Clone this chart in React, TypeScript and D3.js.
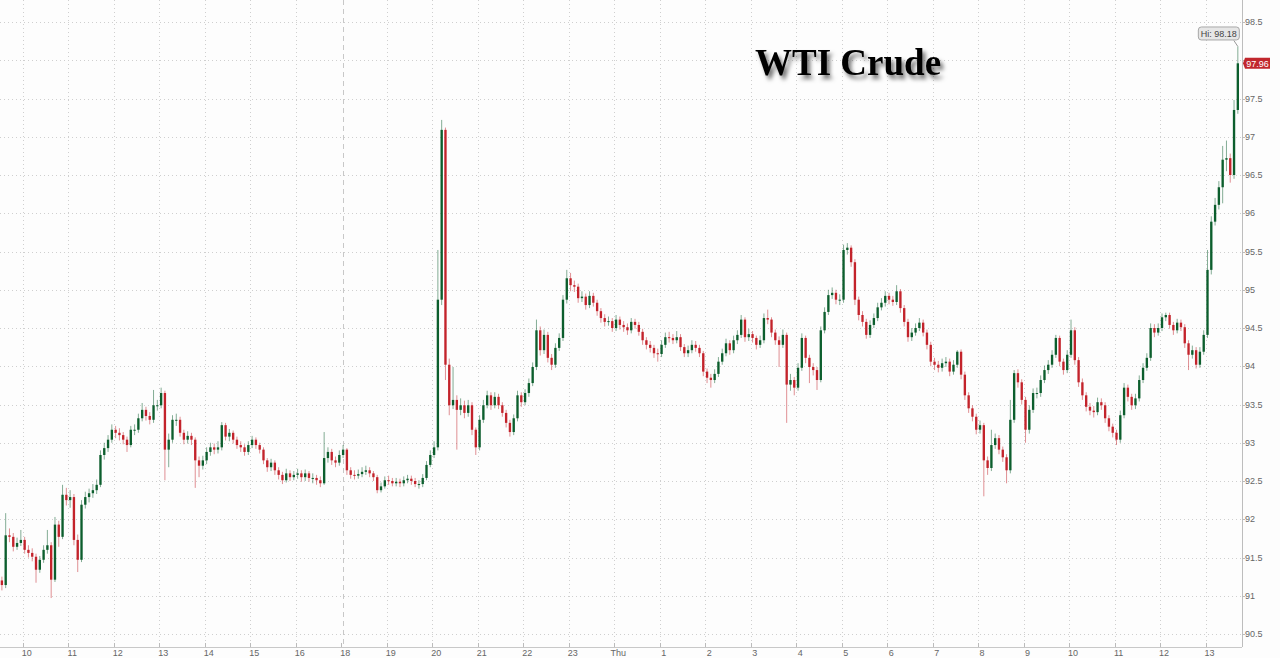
import React from 'react';
import * as d3 from 'd3';

// ---- data ----
const hourLabels = ['10', '11', '12', '13', '14', '15', '16', '18', '19', '20', '21', '22', '23', 'Thu',
  '1', '2', '3', '4', '5', '6', '7', '8', '9', '10', '11', '12', '13'];
const sessionBreakIndex = 7; // the "18" label: session restart (dashed line)
const priceTicks = [90.5, 91, 91.5, 92, 92.5, 93, 93.5, 94, 94.5, 95, 95.5, 96, 96.5, 97, 97.5, 98, 98.5];
const titleText = 'WTI Crude';
const hiValue = 98.18;
const lastValue = 97.96;
const firstOpen = 91.2;
const barsPerHour = 12; // 5-minute candles

const closes = [
  91.14, 91.79, 91.77, 91.64, 91.69, 91.73, 91.60, 91.56, 91.51, 91.34, 91.47, 91.60,
  91.66, 91.21, 91.93, 91.77, 92.32, 92.25, 92.29, 91.73, 91.47, 92.19, 92.29, 92.34,
  92.38, 92.45, 92.84, 92.93, 93.04, 93.17, 93.13, 93.10, 93.04, 92.97, 93.17, 93.17,
  93.32, 93.43, 93.35, 93.30, 93.49, 93.49, 93.65, 92.91, 93.04, 93.30, 93.30, 93.13,
  93.04, 93.09, 93.04, 92.77, 92.70, 92.77, 92.88, 92.94, 92.91, 92.94, 93.23, 93.08,
  93.13, 93.04, 92.97, 92.94, 92.88, 92.97, 93.04, 92.97, 92.91, 92.77, 92.68, 92.74,
  92.64, 92.58, 92.51, 92.60, 92.55, 92.58, 92.60, 92.55, 92.60, 92.54, 92.54, 92.51,
  92.47, 92.80, 92.88, 92.77, 92.74, 92.84, 92.91, 92.64, 92.58, 92.57, 92.59, 92.62,
  92.64, 92.60, 92.55, 92.38, 92.43, 92.51, 92.50, 92.47, 92.49, 92.47, 92.51, 92.53,
  92.50, 92.46, 92.46, 92.54, 92.71, 92.84, 92.94, 94.87, 97.09, 94.02, 93.49, 93.56,
  93.43, 93.49, 93.39, 93.49, 93.17, 92.94, 93.30, 93.49, 93.62, 93.49, 93.60, 93.49,
  93.39, 93.26, 93.14, 93.32, 93.62, 93.53, 93.65, 93.78, 93.99, 94.47, 94.21, 94.41,
  94.11, 94.02, 94.24, 94.37, 94.87, 95.15, 95.06, 95.04, 94.89, 94.91, 94.80, 94.92,
  94.83, 94.72, 94.63, 94.58, 94.59, 94.50, 94.61, 94.54, 94.51, 94.47, 94.58, 94.54,
  94.45, 94.34, 94.28, 94.24, 94.17, 94.16, 94.28, 94.38, 94.37, 94.34, 94.38, 94.25,
  94.17, 94.21, 94.28, 94.24, 94.17, 93.93, 93.85, 93.82, 93.90, 94.06, 94.17, 94.30,
  94.21, 94.34, 94.41, 94.61, 94.38, 94.42, 94.37, 94.28, 94.34, 94.63, 94.61, 94.44,
  94.34, 94.28, 94.41, 93.76, 93.82, 93.72, 93.98, 94.37, 94.11, 93.99, 93.95, 93.82,
  94.47, 94.71, 94.93, 94.96, 94.87, 94.87, 95.52, 95.55, 95.36, 94.87, 94.67, 94.58,
  94.41, 94.54, 94.63, 94.77, 94.83, 94.92, 94.87, 94.84, 94.98, 94.76, 94.58, 94.38,
  94.44, 94.50, 94.57, 94.44, 94.28, 94.06, 94.02, 93.98, 94.04, 94.06, 93.93, 94.02,
  94.19, 93.89, 93.62, 93.45, 93.34, 93.17, 93.23, 92.77, 92.67, 92.97, 93.06, 92.91,
  92.81, 92.64, 93.30, 93.91, 93.79, 93.56, 93.17, 93.43, 93.65, 93.65, 93.82, 93.95,
  94.02, 94.15, 94.37, 94.06, 93.95, 94.15, 94.47, 94.08, 93.79, 93.62, 93.47, 93.42,
  93.40, 93.53, 93.49, 93.32, 93.21, 93.13, 93.04, 93.36, 93.72, 93.60, 93.49, 93.58,
  93.82, 93.98, 94.11, 94.50, 94.44, 94.50, 94.64, 94.67, 94.54, 94.47, 94.57, 94.51,
  94.30, 94.15, 94.21, 94.02, 94.19, 94.41, 95.26, 95.89, 96.11, 96.34, 96.70, 96.72,
  96.50, 97.35, 97.96,
];

const highs = [
  91.25, 92.08, 91.88, 91.82, 91.76, 91.86, 91.77, 91.66, 91.62, 91.55, 91.52, 91.66,
  91.86, 91.70, 92.03, 91.98, 92.45, 92.41, 92.38, 92.33, 91.80, 92.25, 92.36, 92.40,
  92.46, 92.52, 92.90, 93.00, 93.10, 93.24, 93.22, 93.19, 93.14, 93.08, 93.22, 93.24,
  93.38, 93.52, 93.47, 93.40, 93.69, 93.56, 93.72, 93.68, 93.12, 93.36, 93.38, 93.34,
  93.17, 93.15, 93.13, 93.07, 92.82, 92.83, 92.94, 93.00, 92.99, 93.02, 93.27, 93.26,
  93.18, 93.16, 93.08, 93.02, 92.98, 93.02, 93.09, 93.07, 93.00, 92.94, 92.80, 92.79,
  92.77, 92.68, 92.62, 92.66, 92.64, 92.63, 92.66, 92.64, 92.65, 92.63, 92.60, 92.58,
  92.56, 93.14, 92.94, 92.92, 92.82, 92.90, 92.97, 92.93, 92.68, 92.64, 92.65, 92.68,
  92.70, 92.68, 92.63, 92.58, 92.48, 92.56, 92.57, 92.54, 92.54, 92.53, 92.56, 92.58,
  92.57, 92.54, 92.51, 92.59, 92.76, 92.90, 93.02, 95.52, 97.22, 97.12, 94.10, 93.99,
  93.62, 93.58, 93.55, 93.56, 93.53, 93.20, 93.36, 93.56, 93.68, 93.66, 93.66, 93.64,
  93.53, 93.43, 93.30, 93.37, 93.68, 93.66, 93.70, 93.84, 94.05, 94.61, 94.52, 94.48,
  94.45, 94.16, 94.30, 94.43, 94.93, 95.26, 95.22, 95.12, 95.08, 94.98, 94.95, 94.98,
  94.96, 94.87, 94.76, 94.68, 94.65, 94.63, 94.67, 94.65, 94.59, 94.56, 94.63, 94.62,
  94.58, 94.49, 94.38, 94.33, 94.28, 94.23, 94.34, 94.44, 94.45, 94.42, 94.46, 94.42,
  94.29, 94.27, 94.34, 94.33, 94.28, 94.20, 93.97, 93.90, 93.96, 94.12, 94.23, 94.36,
  94.34, 94.40, 94.47, 94.67, 94.64, 94.49, 94.46, 94.40, 94.40, 94.69, 94.74, 94.64,
  94.48, 94.39, 94.48, 94.44, 93.90, 93.86, 94.04, 94.43, 94.40, 94.15, 94.04, 93.99,
  94.52, 94.77, 95.00, 95.03, 95.00, 94.94, 95.59, 95.61, 95.58, 95.40, 94.91, 94.72,
  94.62, 94.60, 94.69, 94.83, 94.89, 94.98, 94.96, 94.92, 95.06, 95.01, 94.80, 94.62,
  94.50, 94.56, 94.63, 94.61, 94.48, 94.32, 94.11, 94.07, 94.10, 94.12, 94.10, 94.08,
  94.21, 94.22, 93.93, 93.66, 93.49, 93.38, 93.29, 93.26, 92.82, 93.17, 93.12, 93.10,
  92.95, 92.85, 93.56, 93.95, 93.96, 93.83, 93.60, 93.49, 93.71, 93.72, 93.88, 94.01,
  94.08, 94.21, 94.41, 94.40, 94.10, 94.21, 94.61, 94.51, 94.12, 93.84, 93.66, 93.52,
  93.48, 93.59, 93.58, 93.53, 93.36, 93.25, 93.17, 93.42, 93.78, 93.76, 93.64, 93.64,
  93.88, 94.04, 94.17, 94.56, 94.55, 94.56, 94.69, 94.70, 94.70, 94.58, 94.62, 94.61,
  94.55, 94.34, 94.27, 94.25, 94.25, 94.47, 95.52, 95.96, 96.20, 96.42, 96.88, 96.95,
  96.78, 97.48, 98.18,
];

const lows = [
  91.07, 91.10, 91.70, 91.58, 91.60, 91.65, 91.55, 91.50, 91.45, 91.17, 91.30, 91.43,
  91.55, 90.97, 91.18, 91.64, 91.74, 92.18, 92.15, 91.66, 91.31, 91.44, 92.14, 92.22,
  92.28, 92.33, 92.42, 92.78, 92.88, 93.00, 93.06, 93.03, 92.98, 92.88, 92.94, 93.10,
  93.13, 93.28, 93.29, 93.24, 93.26, 93.42, 93.45, 92.51, 92.68, 93.00, 93.22, 93.08,
  92.98, 92.99, 92.97, 92.41, 92.55, 92.65, 92.72, 92.83, 92.85, 92.86, 92.90, 93.03,
  93.02, 92.99, 92.92, 92.88, 92.83, 92.84, 92.93, 92.92, 92.86, 92.72, 92.62, 92.63,
  92.58, 92.52, 92.46, 92.48, 92.50, 92.51, 92.53, 92.49, 92.50, 92.49, 92.47, 92.45,
  92.42, 92.45, 92.74, 92.71, 92.68, 92.70, 92.80, 92.58, 92.53, 92.52, 92.53, 92.55,
  92.58, 92.55, 92.50, 92.34, 92.35, 92.40, 92.45, 92.43, 92.43, 92.42, 92.43, 92.47,
  92.45, 92.42, 92.40, 92.42, 92.51, 92.68, 92.80, 92.90, 94.80, 93.82, 93.36, 93.44,
  92.91, 93.36, 93.32, 93.34, 93.10, 92.84, 92.90, 93.26, 93.45, 93.43, 93.45, 93.44,
  93.34, 93.20, 93.08, 93.10, 93.28, 93.47, 93.49, 93.60, 93.74, 93.95, 94.14, 94.16,
  94.05, 93.95, 93.98, 94.20, 94.33, 94.82, 94.98, 94.97, 94.83, 94.84, 94.74, 94.76,
  94.78, 94.66, 94.57, 94.52, 94.53, 94.45, 94.46, 94.48, 94.45, 94.41, 94.43, 94.49,
  94.40, 94.28, 94.22, 94.18, 94.11, 94.06, 94.12, 94.24, 94.31, 94.29, 94.30, 94.20,
  94.12, 94.12, 94.17, 94.19, 94.12, 93.87, 93.78, 93.72, 93.78, 93.86, 94.02, 94.13,
  94.15, 94.17, 94.29, 94.37, 94.32, 94.33, 94.31, 94.22, 94.24, 94.30, 94.55, 94.38,
  94.28, 93.99, 94.24, 93.26, 93.68, 93.62, 93.68, 93.94, 94.04, 93.78, 93.88, 93.69,
  93.79, 94.43, 94.67, 94.88, 94.81, 94.80, 94.83, 95.46, 95.30, 94.80, 94.60, 94.52,
  94.36, 94.37, 94.50, 94.59, 94.73, 94.78, 94.81, 94.79, 94.80, 94.70, 94.52, 94.32,
  94.33, 94.40, 94.46, 94.39, 94.22, 94.00, 93.95, 93.92, 93.93, 93.99, 93.87, 93.89,
  93.98, 93.83, 93.56, 93.39, 93.28, 93.11, 93.12, 92.30, 92.58, 92.63, 92.92, 92.85,
  92.75, 92.47, 92.60, 93.26, 93.72, 93.50, 93.00, 93.12, 93.39, 93.58, 93.60, 93.78,
  93.90, 93.98, 94.11, 94.00, 93.89, 93.91, 94.11, 94.02, 93.73, 93.56, 93.41, 93.36,
  93.33, 93.36, 93.43, 93.26, 93.15, 93.07, 92.97, 93.00, 93.32, 93.54, 93.43, 93.44,
  93.54, 93.78, 93.94, 94.07, 94.38, 94.40, 94.46, 94.59, 94.49, 94.41, 94.43, 94.46,
  94.24, 93.95, 94.10, 93.97, 93.98, 94.15, 94.37, 95.20, 95.84, 96.05, 96.13, 96.55,
  96.40, 96.45, 97.30,
];

const UP = '#0c5e2d';
const DOWN = '#c3232b';
const AXIS_FONT = '"Liberation Sans", Arial, sans-serif';

export default function App() {
  const W = 1280;
  const H = 658;
  const plotRight = 1242;
  const axisY = 647;

  const x = d3.scaleLinear().domain([-0.5, 26.8]).range([0, plotRight]);
  const y = d3.scaleLinear().domain([90.5, 98.5]).range([634, 22]);

  const step = x(1 / barsPerHour) - x(0);
  const bodyW = step * 0.62;

  const candles = closes.map((c, i) => ({
    o: i === 0 ? firstOpen : closes[i - 1],
    c,
    h: highs[i],
    l: lows[i],
    t: -0.5 + (i + 0.5) / barsPerHour,
  }));

  const last = candles[candles.length - 1];
  const hiIdx = highs.indexOf(d3.max(highs) as number);
  const hx = x(candles[hiIdx].t);
  const hy = y(hiValue);
  const ly = y(lastValue);

  return (
    <div style={{ position: 'absolute', left: 0, top: 0, width: W, height: H, overflow: 'hidden' }}>
      <svg width={W} height={H} style={{ display: 'block', background: '#fdfdfd' }}>
        <defs>
          <filter id="titleShadow" x="-10%" y="-30%" width="130%" height="180%">
            <feDropShadow dx="3" dy="4" stdDeviation="2.2" floodColor="#000" floodOpacity="0.55" />
          </filter>
        </defs>

        {/* horizontal dotted grid */}
        {priceTicks.map((p) => (
          <line key={'hg' + p} x1={0} x2={plotRight} y1={Math.round(y(p)) + 0.5} y2={Math.round(y(p)) + 0.5}
            stroke="#cfcfcf" strokeDasharray="1,3" />
        ))}
        {/* vertical dotted grid */}
        {hourLabels.map((lab, k) => (
          k === sessionBreakIndex ? null : (
            <line key={'vg' + k} x1={Math.round(x(k)) + 0.5} x2={Math.round(x(k)) + 0.5} y1={0} y2={axisY}
              stroke="#cfcfcf" strokeDasharray="1,3" />
          )
        ))}
        {/* session break dashed line */}
        <line x1={Math.round(x(sessionBreakIndex)) + 2.5} x2={Math.round(x(sessionBreakIndex)) + 2.5} y1={0} y2={axisY}
          stroke="#c8c8c8" strokeDasharray="5,4" />

        {/* title */}
        <text x={755} y={75} fontFamily='"Liberation Serif", "Times New Roman", serif' fontWeight="bold"
          fontSize={37} fill="#000" filter="url(#titleShadow)">{titleText}</text>

        {/* candles */}
        <g>
          {candles.map((d, i) => {
            const cx = x(d.t);
            const col = d.c >= d.o ? UP : DOWN;
            const top = y(Math.max(d.o, d.c));
            const bot = y(Math.min(d.o, d.c));
            return (
              <g key={'c' + i}>
                <line x1={cx} x2={cx} y1={y(d.h)} y2={y(d.l)} stroke={col} strokeOpacity={0.5} strokeWidth={1} />
                <rect x={cx - bodyW / 2} y={top} width={bodyW} height={Math.max(1, bot - top)} fill={col} />
              </g>
            );
          })}
        </g>

        {/* axes */}
        <line x1={0} x2={plotRight} y1={axisY + 0.5} y2={axisY + 0.5} stroke="#c8c8c8" />
        <line x1={plotRight + 0.5} x2={plotRight + 0.5} y1={0} y2={axisY} stroke="#bdbdbd" />

        {hourLabels.map((lab, k) => (
          <g key={'xt' + k}>
            <line x1={Math.round(x(k)) + 0.5} x2={Math.round(x(k)) + 0.5} y1={axisY - 4} y2={axisY} stroke="#bbb" />
            <text x={x(k) + 4} y={656} textAnchor="middle" fontFamily={AXIS_FONT} fontSize={9} fill="#666">{lab}</text>
          </g>
        ))}

        {priceTicks.map((p) => (
          <g key={'yt' + p}>
            <line x1={plotRight} x2={plotRight + 3} y1={Math.round(y(p)) + 0.5} y2={Math.round(y(p)) + 0.5} stroke="#bbb" />
            {Math.abs(y(p) - ly) < 10 ? null : (
              <text x={plotRight + 3} y={y(p) + 3.2} fontFamily={AXIS_FONT} fontSize={9} fill="#666">{p}</text>
            )}
          </g>
        ))}

        {/* high marker */}
        <line x1={hx - 4} y1={hy - 6} x2={hx} y2={hy} stroke="#999" />
        <rect x={hx - 39.5} y={hy - 19.5} width={41} height={13} rx={3} fill="#e6e6e6" stroke="#a8a8a8" />
        <text x={hx - 19} y={hy - 9.8} textAnchor="middle" fontFamily={AXIS_FONT} fontSize={9} fill="#444">
          {'Hi: ' + hiValue.toFixed(2)}
        </text>

        {/* last price marker */}
        <path d={`M${plotRight + 1},${ly} L${plotRight + 3},${ly - 5.5} H${plotRight + 28} V${ly + 5.5} H${plotRight + 3} Z`}
          fill="#c1272d" />
        <text x={plotRight + 15.5} y={ly + 3.2} textAnchor="middle" fontFamily={AXIS_FONT} fontSize={9} fill="#fff">
          {last.c.toFixed(2)}
        </text>
      </svg>
    </div>
  );
}
